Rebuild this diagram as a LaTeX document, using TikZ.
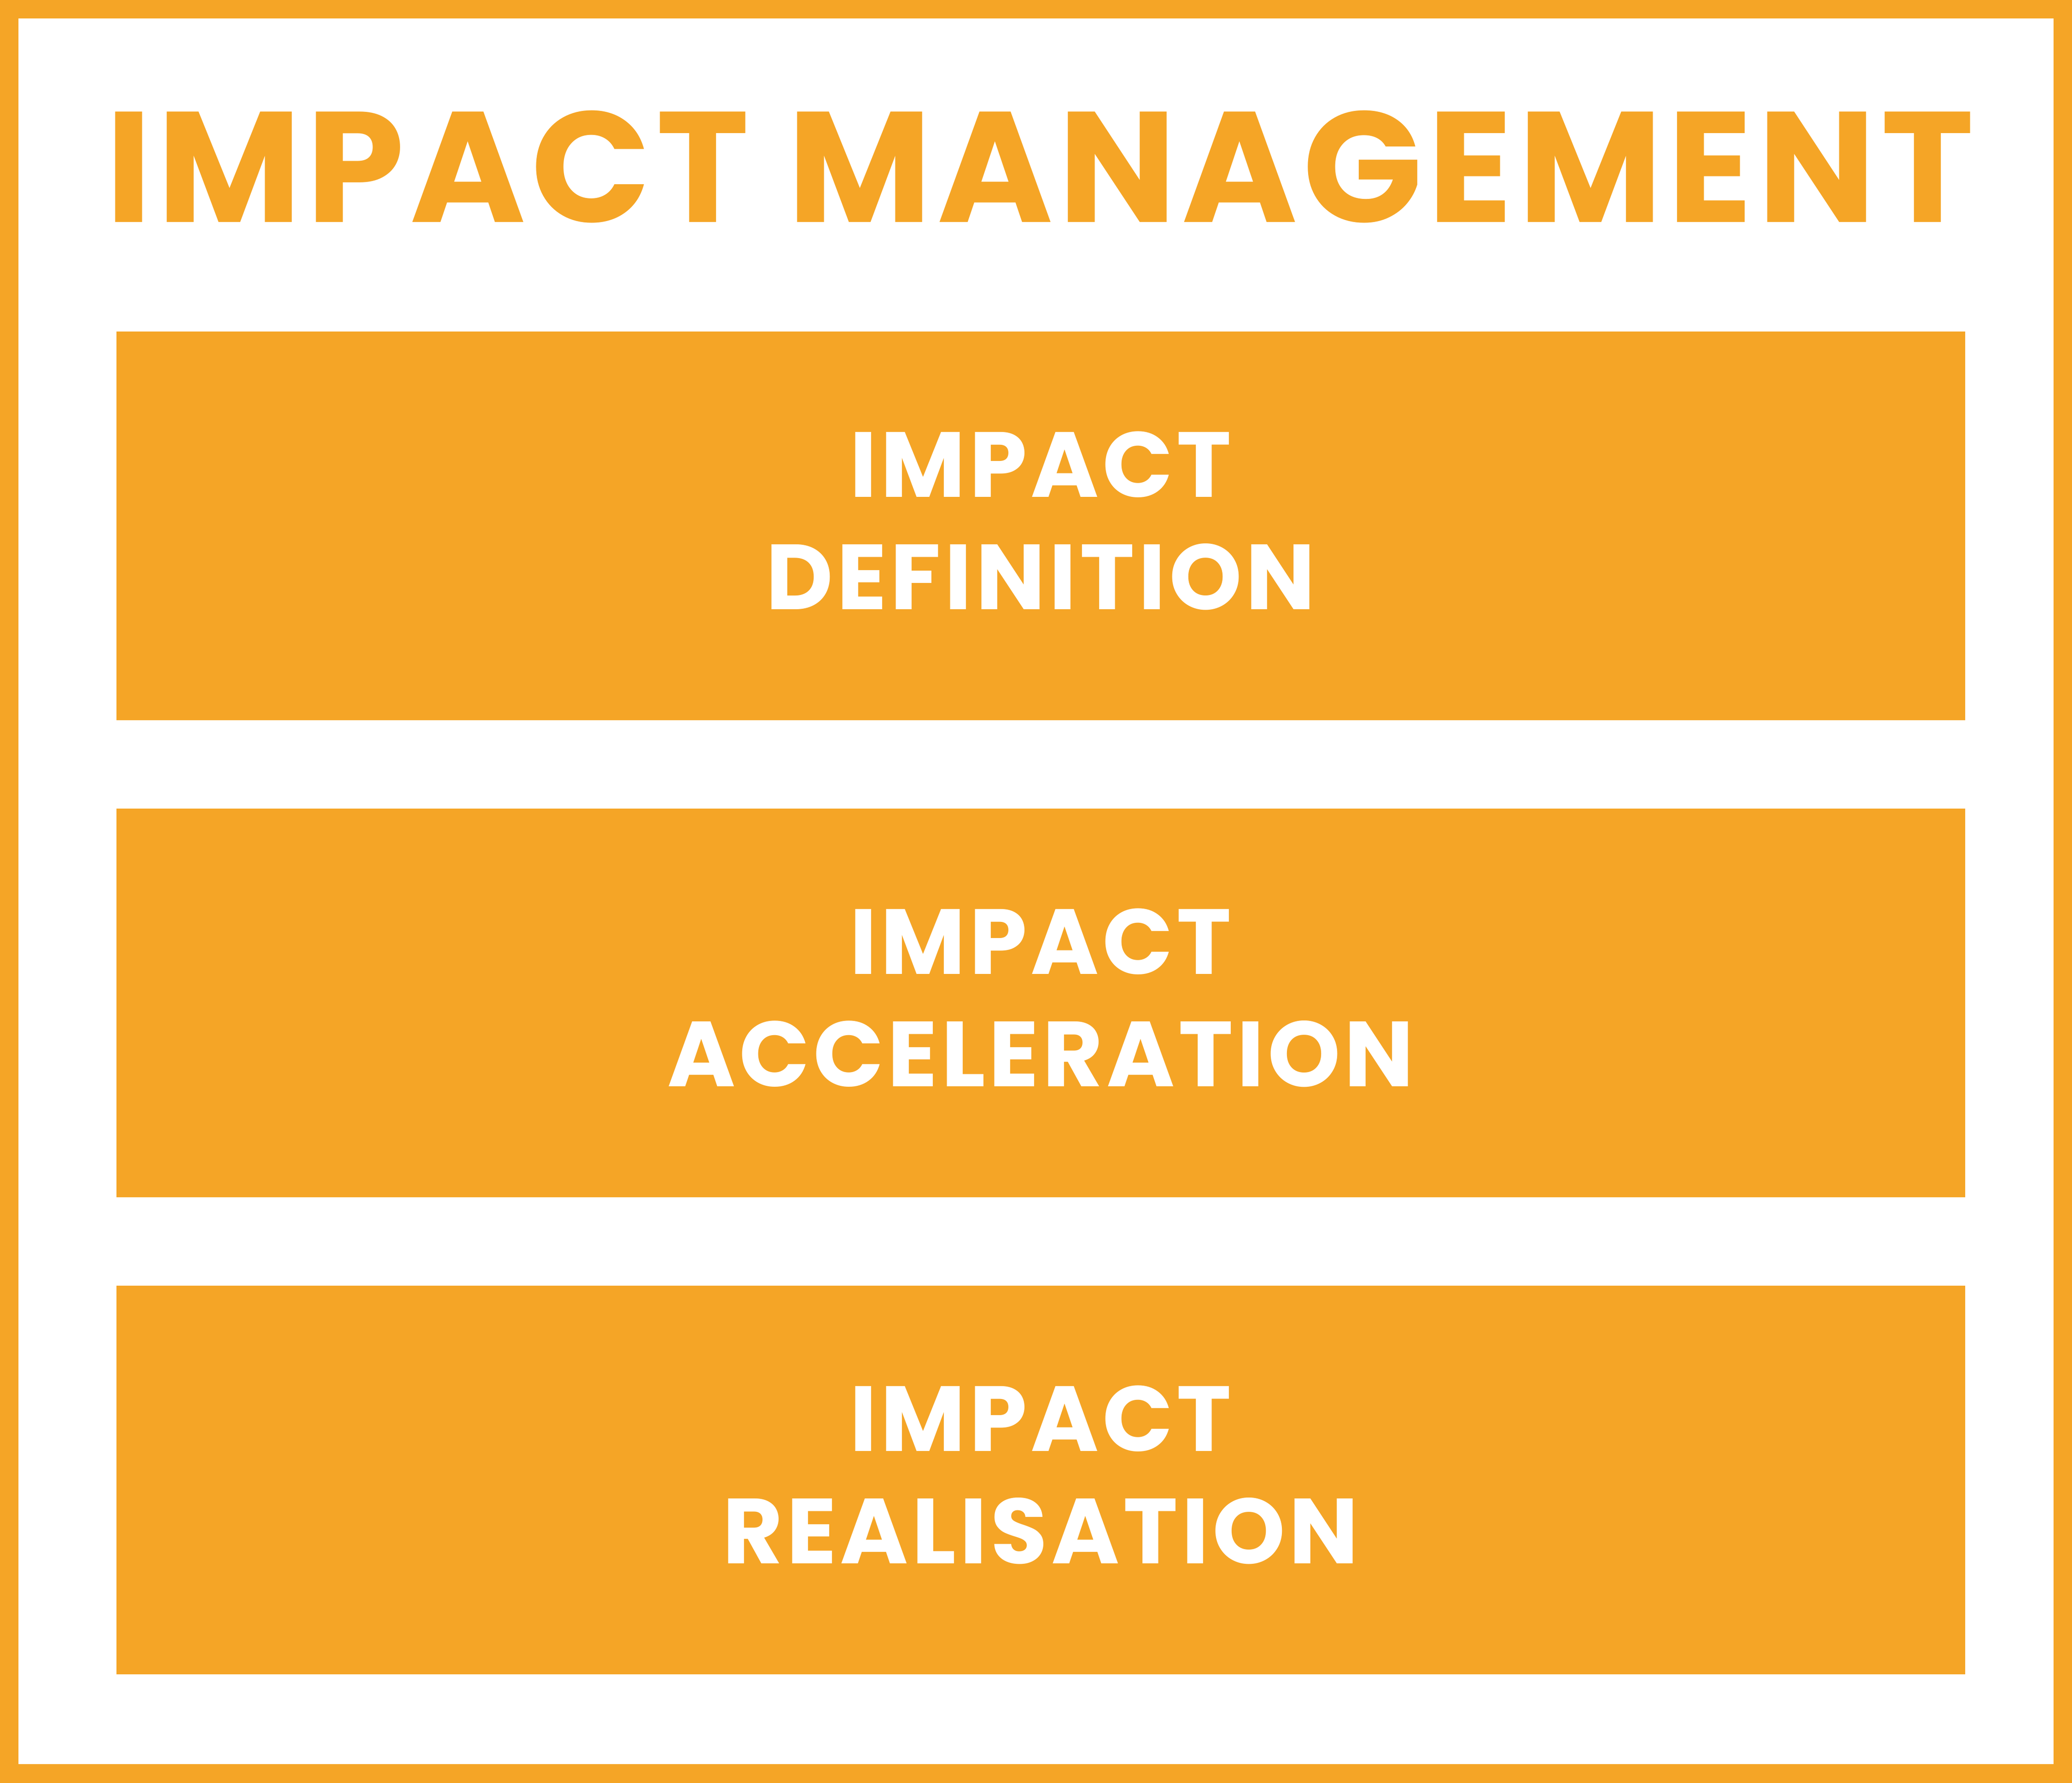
\documentclass[tikz,border=0pt]{standalone}
\usepackage{fontspec}
\setmainfont{Poppins}
\newfontfamily\titlefont{Poppins}[LetterSpace=3.3]
\newfontfamily\boxfont{Poppins}[LetterSpace=4]
\definecolor{orng}{HTML}{F5A526}
\begin{document}
\begin{tikzpicture}[x=1pt,y=-1pt,
  frame/.style={draw=orng,line width=14pt},
  stage/.style={fill=orng,draw=none,minimum width=1399pt,minimum height=294pt,inner sep=0pt},
  stagetext/.style={text=white,align=center,inner sep=0pt,font=\boxfont\bfseries\fontsize{70}{85}\selectfont},
  titletext/.style={text=orng,inner sep=0pt,font=\titlefont\bfseries\fontsize{119}{130}\selectfont}]
\useasboundingbox (0,0) rectangle (1568,1349);
\draw[frame] (7,7) rectangle (1561,1342);
\node[titletext,anchor=base] (title) at (787,168) {IMPACT MANAGEMENT};
\node[stage] (s1) at (787.5,398) {};
\node[stage] (s2) at (787.5,759) {};
\node[stage] (s3) at (787.5,1120) {};
\node[stagetext] (t1) at ([yshift=4pt]s1.center) {IMPACT\\DEFINITION};
\node[stagetext] (t2) at ([yshift=4pt]s2.center) {IMPACT\\ACCELERATION};
\node[stagetext] (t3) at ([yshift=4pt]s3.center) {IMPACT\\REALISATION};
\end{tikzpicture}
\end{document}
